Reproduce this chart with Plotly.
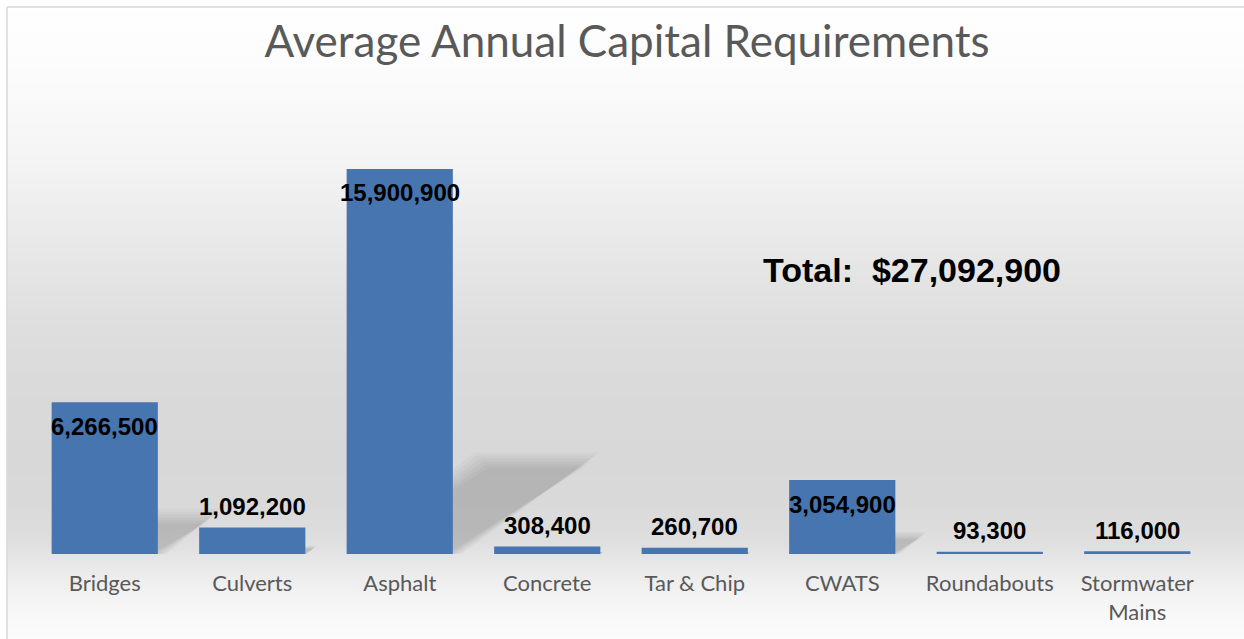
import plotly.graph_objects as go

# ---------------- data ----------------
categories = ["Bridges", "Culverts", "Asphalt", "Concrete", "Tar & Chip",
              "CWATS", "Roundabouts", "Stormwater<br>Mains"]
values = [6266500, 1092200, 15900900, 308400, 260700, 3054900, 93300, 116000]
total_label = "Total:  $27,092,900"
title_text = "Average Annual Capital Requirements"

# ---------------- geometry ----------------
W, H = 1244, 639
ML, MR, MT, MB = 31, 33, 100, 85
PW, PH = W - ML - MR, H - MT - MB
YMAX = 18.75e6
N = len(categories)
CAT_W = PW / N
BAR_FRAC = 0.72


def px_x(px):
    return (px - ML) / PW


def px_y(py):
    return (H - MB - py) / PH


shapes = []

# background vertical gradient (paper decoration)
stops = [(0, 255), (60, 252), (120, 248), (160, 244), (220, 236), (270, 229),
         (320, 223), (380, 218), (450, 216), (500, 217), (540, 222),
         (560, 230), (590, 241), (615, 248), (639, 251)]


def gray_at(y):
    for (y0, g0), (y1, g1) in zip(stops[:-1], stops[1:]):
        if y0 <= y <= y1:
            t = (y - y0) / (y1 - y0)
            return g0 + (g1 - g0) * t
    return stops[-1][1]


step = 3
y = 7
while y < H:
    g = int(round(gray_at(y + step / 2)))
    shapes.append(dict(type="rect", xref="paper", yref="paper", layer="below",
                       x0=px_x(7), x1=px_x(W), y0=px_y(y + step + 0.5), y1=px_y(y),
                       fillcolor=f"rgb({g},{g},{g})", line=dict(width=0)))
    y += step

# soft cast shadows behind bars
SH = 0.24
SHEAR = 1.478
for i, v in enumerate(values):
    h = v / YMAX * PH
    sh = SH * h
    dx = SHEAR * sh
    cx = ML + (i + 0.5) * CAT_W
    bl = cx - BAR_FRAC * CAT_W / 2
    br = cx + BAR_FRAC * CAT_W / 2
    base = H - MB
    k = min(1.0, sh / 35.0)
    for e0 in (9, 6, 3, 0, -3, -6):
        e = e0 * k
        pts = [(bl, base), (br + e, base), (br + dx + e, base - sh - e),
               (bl + dx - e, base - sh - e)]
        path = "M " + " L ".join(f"{px_x(a):.5f},{px_y(b):.5f}" for a, b in pts) + " Z"
        shapes.append(dict(type="path", xref="paper", yref="paper", layer="below",
                           path=path, fillcolor="rgba(0,0,0,0.028)", line=dict(width=0)))

# chart border (left and top)
shapes.append(dict(type="line", xref="paper", yref="paper", layer="above",
                   x0=px_x(7), x1=px_x(W + 5), y0=px_y(7), y1=px_y(7),
                   line=dict(color="#d9d9d9", width=1.5)))
shapes.append(dict(type="line", xref="paper", yref="paper", layer="above",
                   x0=px_x(7), x1=px_x(7), y0=px_y(7), y1=px_y(H + 5),
                   line=dict(color="#d9d9d9", width=1.5)))

fig = go.Figure()
fig.add_trace(go.Bar(
    x=categories, y=values,
    marker=dict(color="#4675b0", line=dict(width=0)),
    hoverinfo="x+y",
))

annotations = []
for c, v in zip(categories, values):
    inside = v > 2_000_000
    annotations.append(dict(
        x=c, y=v, xref="x", yref="y",
        text=f"<b>{v:,}</b>", showarrow=False,
        xanchor="center", yanchor="middle",
        yshift=-24 if inside else 21,
        font=dict(family="Liberation Sans, Arial, sans-serif", size=24, color="#000000"),
    ))

annotations.append(dict(
    x=px_x(912), y=px_y(270), xref="paper", yref="paper",
    text=f"<b>{total_label}</b>", showarrow=False,
    xanchor="center", yanchor="middle",
    font=dict(family="Liberation Sans, Arial, sans-serif", size=34, color="#000000"),
))

fig.update_layout(
    width=W, height=H,
    margin=dict(l=ML, r=MR, t=MT, b=MB, pad=0),
    paper_bgcolor="#ffffff",
    plot_bgcolor="rgba(0,0,0,0)",
    title=dict(text=title_text, x=627 / W, xanchor="center",
               y=1 - 42 / H, yanchor="middle", yref="container",
               font=dict(family="Lato, sans-serif", size=44, color="#595959")),
    bargap=1 - BAR_FRAC,
    showlegend=False,
    shapes=shapes,
    annotations=annotations,
    xaxis=dict(type="category", showline=False, showgrid=False, ticks="",
               zeroline=False, ticklabelstandoff=14,
               tickfont=dict(family="Lato, sans-serif", size=22, color="#595959")),
    yaxis=dict(visible=False, range=[0, YMAX], showgrid=False, zeroline=False),
)

fig.write_html(
    "out.html",
    config={"displayModeBar": False},
    post_script="document.body.style.margin='0px';document.body.style.overflow='hidden';",
)
